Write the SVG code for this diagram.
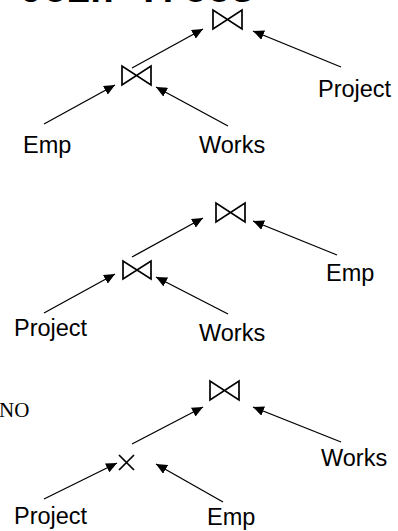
<svg xmlns="http://www.w3.org/2000/svg" width="398" height="531" viewBox="0 0 398 531">
<style>
.lbl{font-family:"Liberation Sans",Arial,sans-serif;font-size:23.5px;fill:#000}
.edge{stroke:#000;stroke-width:1.3;fill:none;marker-end:url(#ah)}
.bt{stroke:#000;stroke-width:1.7;fill:none;stroke-linejoin:miter}
</style>
<defs>
<marker id="ah" markerUnits="userSpaceOnUse" markerWidth="12" markerHeight="10" refX="11" refY="5" orient="auto">
<path d="M0,0 L11,5 L0,10 Z" fill="#000"/>
</marker>
</defs>
<rect width="398" height="531" fill="#fff"/>
<text x="20" y="2" font-family="'Liberation Mono','Courier New',monospace" font-size="39" font-weight="bold" fill="#000">Join Trees</text>
<text x="-1" y="417" font-family="'Liberation Serif','Times New Roman',serif" font-size="21" fill="#000">NO</text>
<g id="connectors">
<line class="edge" x1="132" y1="68" x2="203" y2="29"/>
<line class="edge" x1="341" y1="67" x2="253" y2="31"/>
<line class="edge" x1="44" y1="124" x2="115" y2="85"/>
<line class="edge" x1="228" y1="126" x2="156" y2="87"/>
<line class="edge" x1="132" y1="257" x2="203" y2="218"/>
<line class="edge" x1="337" y1="255" x2="253" y2="221"/>
<line class="edge" x1="44" y1="313" x2="115" y2="274"/>
<line class="edge" x1="228" y1="314" x2="156" y2="277"/>
<line class="edge" x1="132" y1="444" x2="203" y2="407"/>
<line class="edge" x1="341" y1="442" x2="253" y2="407"/>
<line class="edge" x1="44" y1="499" x2="117" y2="463"/>
<line class="edge" x1="223" y1="502" x2="156" y2="464"/>
</g>
<g id="t1-root"><path class="bt" d="M213,10 L213,29 L242,10 L242,29 Z"/></g>
<g id="t1-join"><path class="bt" d="M122,66 L122,85 L151,66 L151,85 Z"/></g>
<g id="t1-emp"><text class="lbl" x="23" y="153">Emp</text></g>
<g id="t1-works"><text class="lbl" x="199" y="153">Works</text></g>
<g id="t1-project"><text class="lbl" x="318" y="97">Project</text></g>
<g id="t2-root"><path class="bt" d="M216,203 L216,222 L245,203 L245,222 Z"/></g>
<g id="t2-join"><path class="bt" d="M123,261 L123,279 L151,261 L151,279 Z"/></g>
<g id="t2-emp"><text class="lbl" x="326" y="281">Emp</text></g>
<g id="t2-project"><text class="lbl" x="14" y="336">Project</text></g>
<g id="t2-works"><text class="lbl" x="199" y="341">Works</text></g>
<g id="t3-root"><path class="bt" d="M210,381 L210,400 L239,381 L239,400 Z"/></g>
<g id="t3-cross"><path class="bt" d="M119,455 L134,470 M134,455 L119,470" stroke-width="1.5"/></g>
<g id="t3-works"><text class="lbl" x="321" y="466">Works</text></g>
<g id="t3-project"><text class="lbl" x="14" y="524">Project</text></g>
<g id="t3-emp"><text class="lbl" x="207" y="525">Emp</text></g>
</svg>
